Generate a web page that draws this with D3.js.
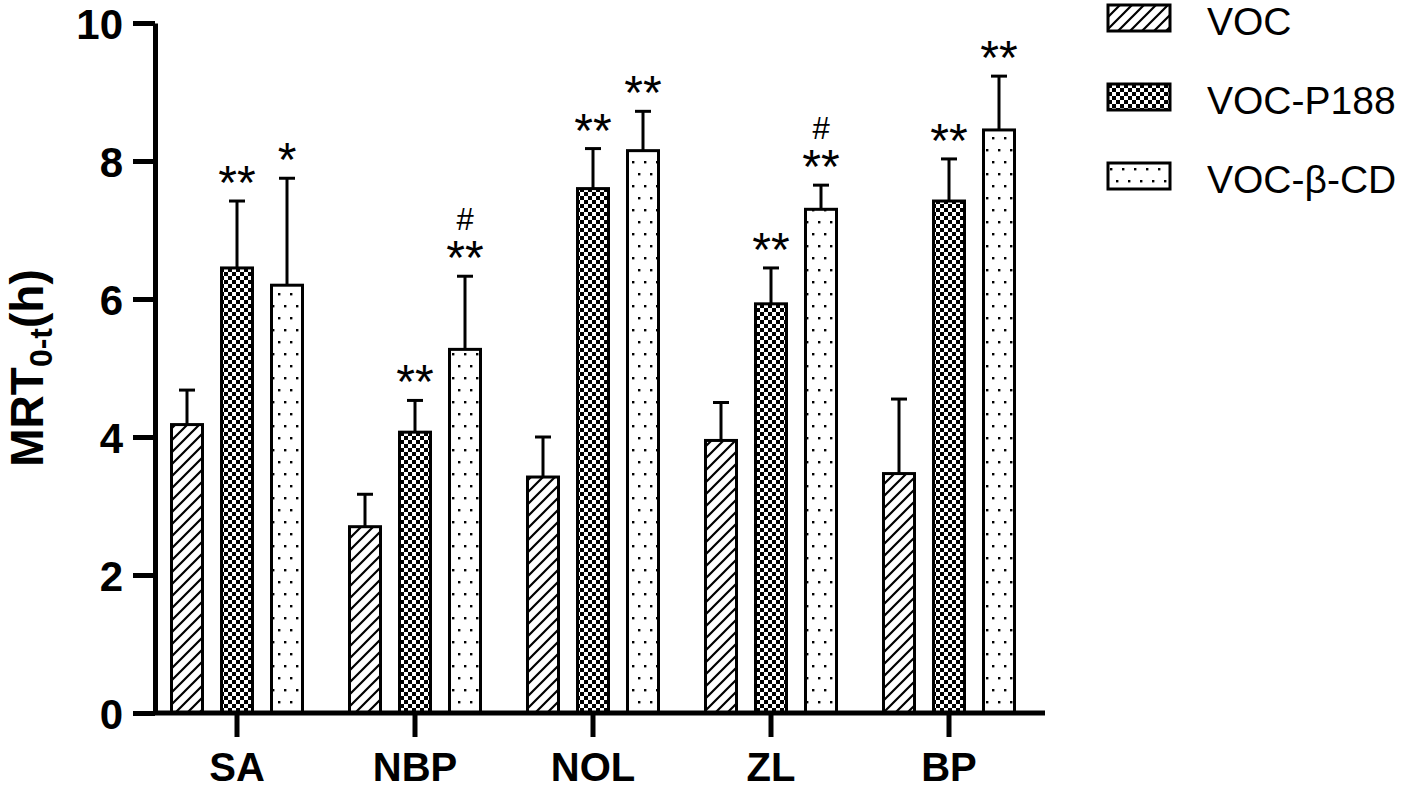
<!DOCTYPE html>
<html>
<head>
<meta charset="utf-8">
<script src="https://cdn.jsdelivr.net/npm/d3@7"></script>
<style>
  body { margin: 0; background: #fff; }
  svg { font-family: "Liberation Sans", Arial, sans-serif; }
</style>
</head>
<body>
<div id="chart"></div>
<script>
// data
var categories = ["SA", "NBP", "NOL", "ZL", "BP"];
var seriesNames = ["VOC", "VOC-P188", "VOC-β-CD"];
var vocMean  = [4.18, 2.70, 3.42, 3.95, 3.47];
var vocErr   = [0.50, 0.47, 0.58, 0.55, 1.08];
var p188Mean = [6.45, 4.07, 7.60, 5.93, 7.42];
var p188Err  = [0.97, 0.46, 0.58, 0.52, 0.61];
var cdMean   = [6.20, 5.27, 8.15, 7.30, 8.45];
var cdErr    = [1.55, 1.06, 0.57, 0.35, 0.78];
var stars = [
  ["", "**", "*"],
  ["", "**", "**"],
  ["", "**", "**"],
  ["", "**", "**"],
  ["", "**", "**"]
];
var hashes = [
  ["", "", ""],
  ["", "", "#"],
  ["", "", ""],
  ["", "", "#"],
  ["", "", ""]
];
var yTicks = [0, 2, 4, 6, 8, 10];

var means = [vocMean, p188Mean, cdMean];
var errs = [vocErr, p188Err, cdErr];
var patternIds = ["hatch", "checker", "dots"];

var svgWidth = 1418, svgHeight = 788;

var svg = d3.select("#chart")
  .append("svg")
  .attr("width", svgWidth)
  .attr("height", svgHeight);

// fill patterns
var defs = svg.append("defs");

var hatch = defs.append("pattern")
  .attr("id", "hatch")
  .attr("patternUnits", "userSpaceOnUse")
  .attr("width", 12).attr("height", 12);
hatch.append("rect").attr("width", 12).attr("height", 12).attr("fill", "#fff");
hatch.append("path")
  .attr("d", "M-3,3 L3,-3 M0,12 L12,0 M9,15 L15,9")
  .attr("stroke", "#000").attr("stroke-width", 2.2);

var checker = defs.append("pattern")
  .attr("id", "checker")
  .attr("patternUnits", "userSpaceOnUse")
  .attr("width", 8).attr("height", 8);
checker.append("rect").attr("width", 8).attr("height", 8).attr("fill", "#fff");
checker.append("rect").attr("width", 4).attr("height", 4).attr("fill", "#000");
checker.append("rect").attr("x", 4).attr("y", 4).attr("width", 4).attr("height", 4).attr("fill", "#000");

var dots = defs.append("pattern")
  .attr("id", "dots")
  .attr("patternUnits", "userSpaceOnUse")
  .attr("width", 12).attr("height", 24);
dots.append("rect").attr("width", 12).attr("height", 24).attr("fill", "#fff");
dots.append("rect").attr("x", 2).attr("y", 5).attr("width", 2.4).attr("height", 2.4).attr("fill", "#000");
dots.append("rect").attr("x", 8).attr("y", 17).attr("width", 2.4).attr("height", 2.4).attr("fill", "#000");

// scales
var x = d3.scaleBand()
  .domain(categories)
  .range([148, 1038])
  .paddingInner(0)
  .paddingOuter(0);

var xSub = d3.scaleBand()
  .domain(d3.range(seriesNames.length))
  .range([-75, 75])
  .paddingInner(0.38)
  .paddingOuter(0.19);

var y = d3.scaleLinear()
  .domain([0, 10])
  .range([713, 23]);

// bars, error bars and significance marks
var rows = [];
categories.forEach(function(cat, i) {
  seriesNames.forEach(function(s, j) {
    rows.push({cat: cat, j: j, mean: means[j][i], err: errs[j][i], star: stars[i][j], hash: hashes[i][j]});
  });
});

function barX(d) { return x(d.cat) + x.bandwidth() / 2 + xSub(d.j); }
function barMid(d) { return barX(d) + xSub.bandwidth() / 2; }

var chartGroup = svg.append("g");

chartGroup.selectAll(".errbar")
  .data(rows)
  .enter()
  .append("line")
  .attr("x1", barMid).attr("x2", barMid)
  .attr("y1", d => y(d.mean))
  .attr("y2", d => y(d.mean + d.err))
  .attr("stroke", "#000").attr("stroke-width", 3);

chartGroup.selectAll(".errcap")
  .data(rows)
  .enter()
  .append("line")
  .attr("x1", d => barMid(d) - 8).attr("x2", d => barMid(d) + 8)
  .attr("y1", d => y(d.mean + d.err))
  .attr("y2", d => y(d.mean + d.err))
  .attr("stroke", "#000").attr("stroke-width", 3);

chartGroup.selectAll(".bar")
  .data(rows)
  .enter()
  .append("rect")
  .attr("x", barX)
  .attr("width", xSub.bandwidth())
  .attr("y", d => y(d.mean))
  .attr("height", d => y(0) - y(d.mean))
  .attr("fill", d => "url(#" + patternIds[d.j] + ")")
  .attr("stroke", "#000")
  .attr("stroke-width", 3);

chartGroup.selectAll(".star")
  .data(rows.filter(d => d.star))
  .enter()
  .append("text")
  .attr("x", barMid)
  .attr("y", d => y(d.mean + d.err) - 2)
  .attr("text-anchor", "middle")
  .style("font-size", "48px")
  .text(d => d.star);

chartGroup.selectAll(".hash")
  .data(rows.filter(d => d.hash))
  .enter()
  .append("text")
  .attr("x", barMid)
  .attr("y", d => y(d.mean + d.err) - 46)
  .attr("text-anchor", "middle")
  .style("font-size", "31px")
  .text(d => d.hash);

// axes
var leftAxis = d3.axisLeft(y)
  .tickValues(yTicks)
  .tickSize(22)
  .tickSizeOuter(0)
  .tickPadding(10);

var yAxis = svg.append("g")
  .attr("transform", "translate(155,0)")
  .call(leftAxis);
yAxis.select(".domain").attr("stroke-width", 5);
yAxis.selectAll(".tick line").attr("stroke-width", 5);
yAxis.selectAll(".tick text")
  .style("font-size", "42px")
  .style("font-weight", "bold")
  .attr("dy", "0.36em");

var bottomAxis = d3.axisBottom(x)
  .tickSize(24)
  .tickSizeOuter(0)
  .tickPadding(16);

var xAxis = svg.append("g")
  .attr("transform", "translate(0," + y(0) + ")")
  .call(bottomAxis);
xAxis.select(".domain").remove();
xAxis.selectAll(".tick line").attr("stroke-width", 5);
xAxis.selectAll(".tick text")
  .style("font-size", "40px")
  .style("font-weight", "bold");

xAxis.append("line")
  .attr("x1", 153).attr("x2", 1045)
  .attr("y1", 0).attr("y2", 0)
  .attr("stroke", "#000").attr("stroke-width", 5);

// y axis title
var yTitle = svg.append("text")
  .attr("transform", "translate(43," + (y(5)) + ") rotate(-90)")
  .attr("text-anchor", "middle")
  .style("font-size", "46px")
  .style("font-weight", "bold");
yTitle.append("tspan").text("MRT");
yTitle.append("tspan").attr("dy", 9).style("font-size", "32px").text("0-t");
yTitle.append("tspan").attr("dy", -9).text("(h)");

// legend
var legend = svg.append("g")
  .attr("transform", "translate(1108,5)");

var legendItems = legend.selectAll(".legend-item")
  .data(seriesNames)
  .enter()
  .append("g")
  .attr("transform", (d, i) => "translate(0," + (i * 79) + ")");

legendItems.append("rect")
  .attr("width", 62)
  .attr("height", 26)
  .attr("fill", (d, i) => "url(#" + patternIds[i] + ")")
  .attr("stroke", "#000")
  .attr("stroke-width", 3);

legendItems.append("text")
  .attr("x", 99)
  .attr("y", 30)
  .style("font-size", "39px")
  .text(d => d);
</script>
</body>
</html>
